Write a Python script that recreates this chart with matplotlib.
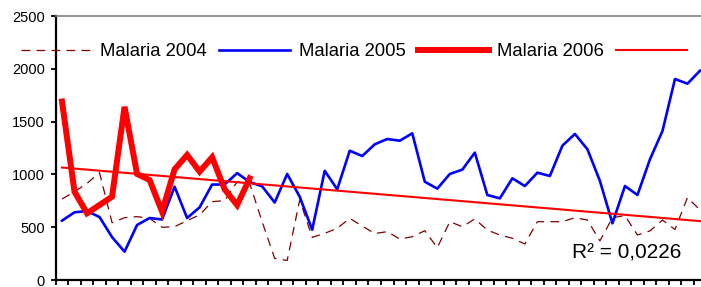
import numpy as np
import matplotlib
matplotlib.use("Agg")
import matplotlib.pyplot as plt

plt.rcParams["font.family"] = ["Liberation Sans", "DejaVu Sans"]

# weekly malaria cases
malaria_2004 = [767, 836, 915, 1016, 543, 590, 600, 584, 499, 505, 562, 616, 742, 751, 931, 915,
                552, 205, 185, 758, 404, 442, 489, 584, 511, 440, 458, 388, 410, 467, 306, 552,
                505, 578, 473, 426, 395, 341, 552, 552, 552, 590, 568, 370, 590, 610, 426, 465,
                568, 478, 781, 663]
malaria_2005 = [562, 641, 653, 596, 406, 268, 521, 587, 573, 884, 587, 688, 904, 904, 1012, 928,
                887, 734, 1004, 789, 476, 1034, 859, 1224, 1174, 1285, 1335, 1319, 1389, 931,
                865, 1004, 1045, 1206, 805, 773, 963, 890, 1016, 985, 1272, 1383, 1238, 938, 537,
                890, 805, 1143, 1411, 1903, 1859, 1982]
malaria_2006 = [1690, 836, 632, 710, 789, 1640, 1004, 947, 647, 1048, 1184, 1026, 1162, 859, 710, 963]
labels = ["Malaria 2004", "Malaria 2005", "Malaria 2006", ""]
r2_text = "R\u00b2 = 0,0226"

weeks = np.arange(len(malaria_2005))
weeks_2006 = np.arange(len(malaria_2006))

# linear trend of 2006, extended over the whole year
coef = np.polyfit(weeks_2006, malaria_2006, 1)
trend_x = np.array([0, len(weeks) + 0.5])
trend_y = np.polyval(coef, trend_x)

fig = plt.figure(figsize=(7.01, 2.87), dpi=100)
ax = fig.add_axes([55.75 / 701, 7 / 287, 650.5 / 701, 264 / 287])

l1, = ax.plot(weeks, malaria_2004, color="#800000", lw=0.9, linestyle=(0, (7, 5)))
l2, = ax.plot(weeks, malaria_2005, color="#0000FF", lw=1.9)
l3, = ax.plot(weeks_2006, malaria_2006, color="#FF0000", lw=4.3, solid_joinstyle="miter")
l4, = ax.plot(trend_x, trend_y, color="#FF0000", lw=1.5)

ax.set_xlim(-0.5, len(weeks) - 0.5)
ax.set_ylim(0, 2500)
ax.set_yticks(range(0, 2501, 500))
ax.set_xticks(np.arange(-0.5, len(weeks), 1.0))
ax.set_xticklabels([])
ax.tick_params(axis="y", direction="out", length=3.6, width=1.3, labelsize=10.5, pad=4.3)
ax.tick_params(axis="x", direction="out", length=3.6, width=1.3)

ax.spines["left"].set_linewidth(1.6)
ax.spines["bottom"].set_linewidth(1.6)
ax.spines["top"].set_color("#808080")
ax.spines["top"].set_linewidth(1.2)
ax.spines["right"].set_visible(False)

ax.text(40.8, 205, r2_text, fontsize=15, ha="left", va="baseline")

fig.legend([l1, l2, l3, l4], labels, loc="center left", bbox_to_anchor=(21 / 701, (287 - 52) / 287),
           ncol=4, frameon=False, fontsize=13.3, handlelength=3.85, handletextpad=0.45,
           columnspacing=0.65, borderpad=0, borderaxespad=0)

fig.savefig("out.png", dpi=100)
